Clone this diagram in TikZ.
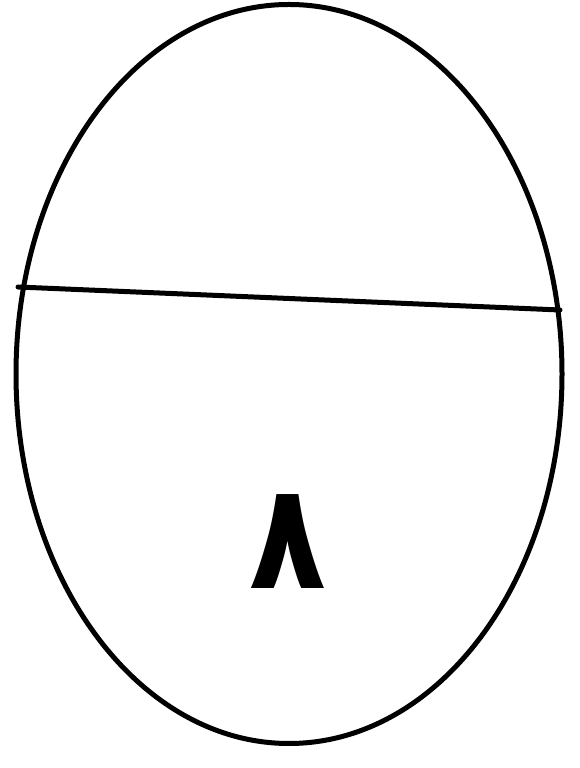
\documentclass[tikz,border=0pt]{standalone}
\usepackage{fontspec}
\usetikzlibrary{shapes.geometric}
\TeXXeTstate=1
\newfontfamily\arabicfont[Script=Arabic]{DejaVu Sans}
\begin{document}
\begin{tikzpicture}[x=1pt,y=1pt,
  outline/.style={draw=black,line width=5pt},
  glyph/.style={inner sep=0pt,xscale=0.85,font=\arabicfont\bfseries\fontsize{148}{148}\selectfont}]
\useasboundingbox (0,0) rectangle (580,768);
\node[outline,ellipse,minimum width=546pt,minimum height=739pt,inner sep=0pt] (egg) at (289,394) {};
\coordinate (L) at (18,481);
\coordinate (R) at (560,458);
\draw[outline,line cap=round] (L) -- (R);
\node[glyph] (eight) at (288,226) {\beginR ٨\endR};
\end{tikzpicture}
\end{document}
